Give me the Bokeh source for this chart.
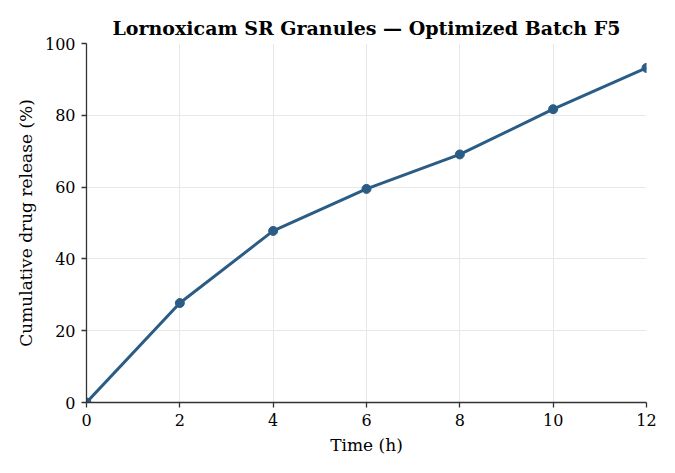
from bokeh.plotting import figure
from bokeh.embed import file_html
from bokeh.resources import INLINE
from bokeh.models import Range1d, FixedTicker

time_h = [0, 2, 4, 6, 8, 10, 12]
release = [0, 27.7, 47.8, 59.5, 69.1, 81.7, 93.2]
x_ticks = [0, 2, 4, 6, 8, 10, 12]
y_ticks = [0, 20, 40, 60, 80, 100]

COLOR = "#2b5c85"
FONT = "DejaVu Serif"

p = figure(width=667, height=465, output_backend="svg", toolbar_location=None,
           title="Lornoxicam SR Granules \u2014 Optimized Batch F5",
           x_range=Range1d(0, 12), y_range=Range1d(0, 100),
           min_border_left=86, min_border_right=21, min_border_top=43, min_border_bottom=63)

p.title.text_font = FONT
p.title.text_font_size = "19px"
p.title.text_font_style = "bold"
p.title.align = "center"
p.title.text_color = "#000000"
p.title.offset = 0

p.outline_line_color = None
p.background_fill_color = "white"
p.border_fill_color = "white"

for ax in (p.xaxis[0], p.yaxis[0]):
    ax.axis_line_color = "#333333"
    ax.axis_line_width = 1.3
    ax.major_tick_line_color = "#333333"
    ax.major_tick_line_width = 1.3
    ax.major_tick_out = 5
    ax.major_tick_in = 0
    ax.minor_tick_line_color = None
    ax.major_label_text_font = FONT
    ax.major_label_text_font_size = "16px"
    ax.major_label_text_color = "#000000"
    ax.major_label_standoff = 6
    ax.axis_label_text_font = FONT
    ax.axis_label_text_font_size = "17px"
    ax.axis_label_text_font_style = "normal"
    ax.axis_label_text_color = "#000000"

p.xaxis.ticker = FixedTicker(ticks=x_ticks)
p.yaxis.ticker = FixedTicker(ticks=y_ticks)
p.xaxis.axis_label = "Time (h)"
p.yaxis.axis_label = "Cumulative drug release (%)"
p.xaxis.axis_label_standoff = 6
p.yaxis.axis_label_standoff = 6

p.xgrid.grid_line_color = "#e8e8e8"
p.ygrid.grid_line_color = "#e8e8e8"
p.xgrid.grid_line_width = 1
p.ygrid.grid_line_width = 1

p.line(time_h, release, line_color=COLOR, line_width=3)
p.scatter(time_h, release, size=9, fill_color=COLOR, line_color=COLOR)

open("out.html", "w").write(file_html(p, INLINE))
